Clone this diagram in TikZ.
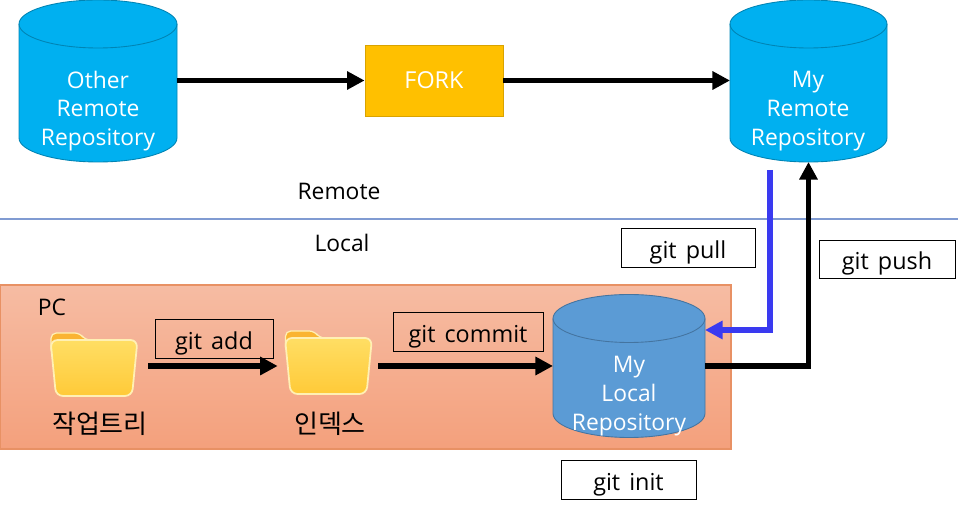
\documentclass[tikz,border=0pt]{standalone}
\usepackage{fontspec}
\setmainfont[WordSpace=1.5]{Open Sans}
\newfontfamily\krfont{Noto Sans CJK KR}
\usetikzlibrary{arrows.meta}
\definecolor{repoblue}{RGB}{0,176,240}
\definecolor{localblue}{RGB}{91,155,213}
\definecolor{forkgold}{RGB}{255,192,0}
\definecolor{pullblue}{RGB}{58,58,240}
\definecolor{splitline}{RGB}{128,155,210}
\definecolor{pctop}{RGB}{246,188,163}
\definecolor{pcbottom}{RGB}{244,160,124}
\definecolor{pcedge}{RGB}{232,145,100}
\definecolor{foldertop}{RGB}{255,222,100}
\definecolor{folderlow}{RGB}{255,202,56}
\definecolor{foldertab}{RGB}{250,180,50}
\definecolor{folderrim}{RGB}{255,240,180}
\tikzset{
  repo-slot/.style={inner sep=0pt, outer sep=0pt},
  repo-text/.style={text=white, align=center, font=\fontsize{13}{16.4}\selectfont},
  plain-text/.style={font=\fontsize{13}{15}\selectfont},
  kr-text/.style={font=\krfont\fontsize{14.8}{16}\selectfont},
  cmd-box/.style={draw=black, line width=0.5pt, inner sep=0pt, text height=14.2pt, text depth=2pt,
    font=\fontsize{13.3}{15}\selectfont},
  flow/.style={draw=black, line width=3.3pt, -{Triangle[length=10pt,width=10pt]}},
  flow-pull/.style={draw=pullblue, line width=3pt, -{Triangle[length=10pt,width=10pt]}},
  folder-slot/.style={minimum width=2cm, minimum height=1.3cm, inner sep=0pt}
}
% cylinder body: colour, centre, half width, half height
\newcommand{\repobody}[4]{
  \begin{scope}[shift={(#2)}]
    \fill[#1, draw=#1!75!black, line width=0.5pt]
      (-#3,-#4+24) arc (180:360:#3 and 24)
      -- (#3,#4-24) arc (0:180:#3 and 24) -- cycle;
    \draw[#1!75!black, line width=0.5pt] (-#3,-#4+24) arc (180:0:#3 and 24);
  \end{scope}
}
% folder glyph, local origin is the folder centre
\newcommand{\folderglyph}[1]{
  \begin{scope}[shift={(#1)}]
    \fill[foldertab, draw=folderrim, line width=0.7pt, rounded corners=3]
      (-43,-10) -- (-43,-32) -- (-14,-32) -- (-9,-25) -- (42,-25) -- (42,-10) -- cycle;
    \shade[top color=foldertop, bottom color=folderlow, draw=folderrim, line width=1pt, rounded corners=4]
      (-43.5,-25) -- (43.5,-25) -- (38,31) -- (-38,31) -- cycle;
  \end{scope}
}

\begin{document}
\begin{tikzpicture}[x=0.02cm, y=-0.02cm]
  \useasboundingbox (0,0) rectangle (958,509);
  \draw[splitline, line width=0.6pt] (0,219) -- (958,219);
  \shade[top color=pctop, bottom color=pcbottom, draw=pcedge, line width=0.6pt] (0,285) rectangle (731,449);
  % repositories
  \repobody{repoblue}{98,81}{79}{81}
  \repobody{repoblue}{808.5,81}{78.5}{81}
  \repobody{localblue}{629,366}{76}{71.5}
  \node[repo-slot, minimum width=3.16cm, minimum height=3.24cm] (other-repo) at (98,81) {};
  \node[repo-slot, minimum width=3.14cm, minimum height=3.24cm] (my-repo) at (808.5,81) {};
  \node[repo-slot, minimum width=3.04cm, minimum height=2.86cm] (local-repo) at (629,366) {};
  \node[repo-text] (other-text) at (98,111) {Other\\Remote\\Repository};
  \node[repo-text] (my-text) at (808,111) {My\\Remote\\Repository};
  \node[repo-text] (local-text) at (629,396) {My\\Local\\Repository};
  \node[draw=forkgold!85!black, fill=forkgold, line width=0.5pt, minimum width=2.76cm, minimum height=1.42cm,
    inner sep=0pt, text=white, font=\fontsize{13.3}{16}\selectfont] (fork) at (434,80.5) {FORK};
  % folders
  \folderglyph{94,365}
  \folderglyph{328.5,363}
  \node[folder-slot] (work-tree) at (98,366) {};
  \node[folder-slot] (index) at (328,366) {};
  % labels
  \node[plain-text] (remote-label) at (339,191) {Remote};
  \node[plain-text] (local-label) at (342,243) {Local};
  \node[plain-text] (pc-label) at (52,307) {PC};
  \node[kr-text] (work-label) at (100,424) {작업트리};
  \node[kr-text] (index-label) at (330,424) {인덱스};
  % arrows
  \coordinate (pull-start) at (770,170);
  \coordinate (pull-end) at (705,330);
  \draw[flow] (other-repo.east |- fork.west) -- (fork.west);
  \draw[flow] (fork.east) -- (my-repo.west |- fork.east);
  \draw[flow] (work-tree.east) -- (index.west);
  \draw[flow] (index.east) -- (local-repo.west);
  \draw[flow] (local-repo.east) -| (my-repo.south);
  \draw[flow-pull] (pull-start) |- (pull-end);
  % command boxes
  \node[cmd-box, minimum width=2.36cm, minimum height=0.78cm] (git-add) at (214,338.5) {git add};
  \node[cmd-box, minimum width=3cm, minimum height=0.78cm] (git-commit) at (468,331.5) {git commit};
  \node[cmd-box, fill=white, minimum width=2.68cm, minimum height=0.78cm] (git-pull) at (688,247.5) {git pull};
  \node[cmd-box, fill=white, minimum width=2.72cm, minimum height=0.76cm] (git-push) at (887,259) {git push};
  \node[cmd-box, fill=white, minimum width=2.7cm, minimum height=0.78cm] (git-init) at (628.5,479.5) {git init};
\end{tikzpicture}
\end{document}
